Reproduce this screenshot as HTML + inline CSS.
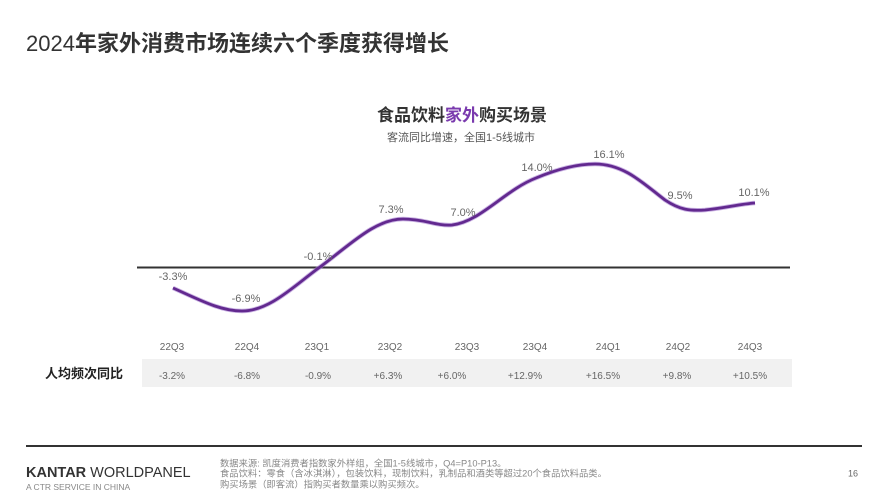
<!DOCTYPE html>
<html>
<head>
<meta charset="utf-8">
<style>
  html,body{margin:0;padding:0;background:#fff;}
  svg{display:block;}
  text{font-family:"Liberation Sans","Noto Sans CJK SC",sans-serif;}
</style>
</head>
<body>
<svg width="888" height="500" viewBox="0 0 888 500" xmlns="http://www.w3.org/2000/svg">
  <rect x="0" y="0" width="888" height="500" fill="#ffffff"/>

  <!-- Page title -->
  <text x="26" y="51" font-size="22" fill="#333" font-weight="bold"><tspan font-weight="normal">2024</tspan>年家外消费市场连续六个季度获得增长</text>

  <!-- Chart title -->
  <text x="462" y="121" font-size="17" font-weight="bold" fill="#333" text-anchor="middle">食品饮料<tspan fill="#7a3aae">家外</tspan>购买场景</text>
  <text x="461" y="141" font-size="11" fill="#555" text-anchor="middle">客流同比增速，全国1-5线城市</text>

  <!-- Zero line -->
  <line x1="137" y1="267.5" x2="790" y2="267.5" stroke="#333" stroke-width="2"/>

  <!-- Curve -->
  <path d="M173,288 C200,300 220,311 242,311 C270,311 295,285 320,267 C350,245 375,219 403,219 C425,219 435,226 452,225 C480,222 505,190 536,178 C560,168 580,164 595,164 C625,164 645,185 665,200 C680,210 690,211 705,210 C725,208 740,204 755,203" fill="none" stroke="#a77fd0" stroke-width="4.5" stroke-linecap="butt" opacity="0.6"/>
  <path d="M173,288 C200,300 220,311 242,311 C270,311 295,285 320,267 C350,245 375,219 403,219 C425,219 435,226 452,225 C480,222 505,190 536,178 C560,168 580,164 595,164 C625,164 645,185 665,200 C680,210 690,211 705,210 C725,208 740,204 755,203" fill="none" stroke="#62298f" stroke-width="2.8" stroke-linecap="butt"/>

  <!-- Data labels -->
  <g font-size="11" fill="#666" text-anchor="middle">
    <text x="173" y="280">-3.3%</text>
    <text x="246" y="302">-6.9%</text>
    <text x="318" y="260">-0.1%</text>
    <text x="391" y="213">7.3%</text>
    <text x="463" y="216">7.0%</text>
    <text x="537" y="171">14.0%</text>
    <text x="609" y="158">16.1%</text>
    <text x="680" y="199">9.5%</text>
    <text x="754" y="196">10.1%</text>
  </g>

  <!-- Quarter labels -->
  <g font-size="10" fill="#666" text-anchor="middle">
    <text x="172" y="350">22Q3</text>
    <text x="247" y="350">22Q4</text>
    <text x="317" y="350">23Q1</text>
    <text x="390" y="350">23Q2</text>
    <text x="467" y="350">23Q3</text>
    <text x="535" y="350">23Q4</text>
    <text x="608" y="350">24Q1</text>
    <text x="678" y="350">24Q2</text>
    <text x="750" y="350">24Q3</text>
  </g>

  <!-- Table band -->
  <rect x="142" y="359" width="650" height="28" fill="#f1f1f1"/>
  <text x="45" y="378" font-size="13" font-weight="bold" fill="#222">人均频次同比</text>
  <g font-size="10" fill="#666" text-anchor="middle">
    <text x="172" y="379">-3.2%</text>
    <text x="247" y="379">-6.8%</text>
    <text x="318" y="379">-0.9%</text>
    <text x="388" y="379">+6.3%</text>
    <text x="452" y="379">+6.0%</text>
    <text x="525" y="379">+12.9%</text>
    <text x="603" y="379">+16.5%</text>
    <text x="677" y="379">+9.8%</text>
    <text x="750" y="379">+10.5%</text>
  </g>

  <!-- Footer -->
  <line x1="26" y1="446" x2="862" y2="446" stroke="#333" stroke-width="2"/>
  <text x="26" y="477" font-size="14.5" fill="#333"><tspan font-weight="bold">KANTAR</tspan> WORLDPANEL</text>
  <text x="26" y="490" font-size="8.5" fill="#888">A CTR SERVICE IN CHINA</text>
  <g font-size="9.3" fill="#888">
    <text x="220" y="466.5">数据来源: 凯度消费者指数家外样组，全国1-5线城市，Q4=P10-P13。</text>
    <text x="220" y="476.5">食品饮料：零食（含冰淇淋），包装饮料，现制饮料，乳制品和酒类等超过20个食品饮料品类。</text>
    <text x="220" y="487.5">购买场景（即客流）指购买者数量乘以购买频次。</text>
  </g>
  <text x="853" y="476.5" font-size="9" fill="#666" text-anchor="middle">16</text>
</svg>
</body>
</html>
